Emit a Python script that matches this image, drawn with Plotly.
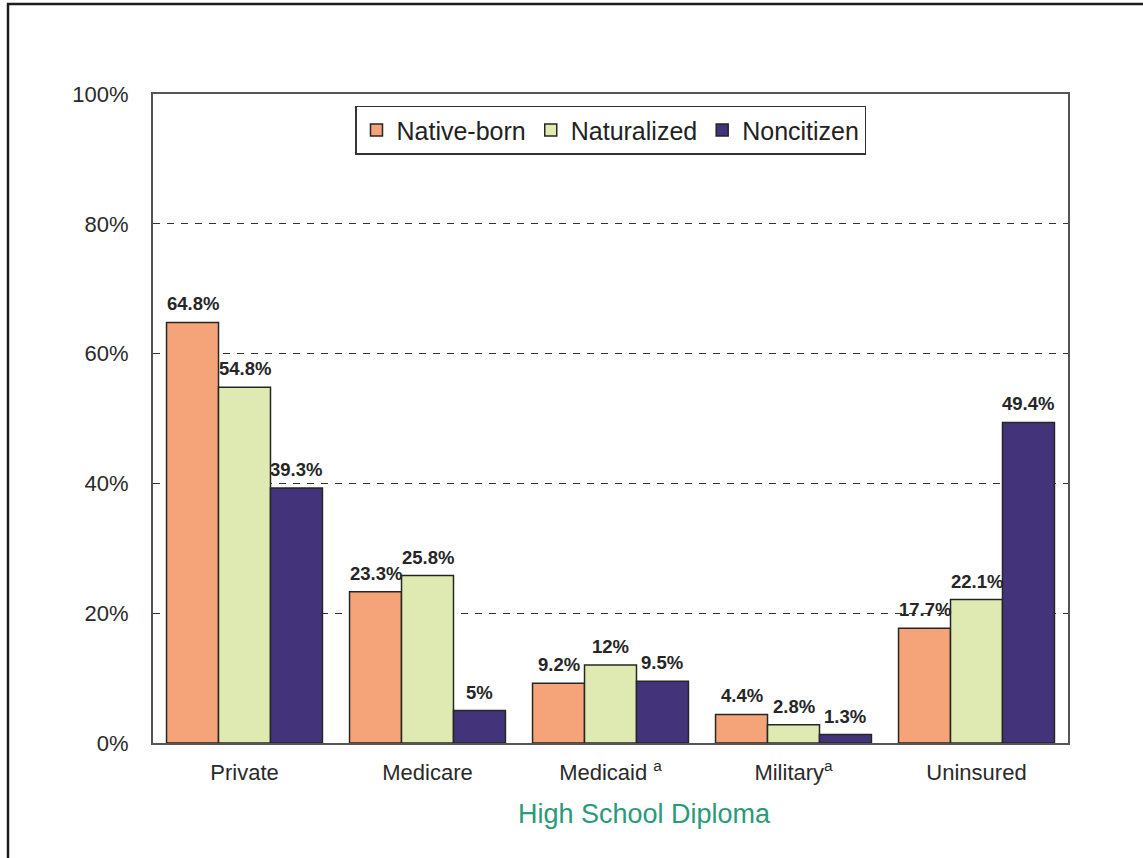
import plotly.graph_objects as go

# Health insurance coverage by nativity, high school diploma holders
categories = ["Private", "Medicare", "Medicaid", "Military", "Uninsured"]
category_labels = ["Private", "Medicare", "Medicaid <sup>a</sup>", "Military<sup>a</sup>", "Uninsured"]
series_names = ["Native-born", "Naturalized", "Noncitizen"]
native_born = [64.8, 23.3, 9.2, 4.4, 17.7]
naturalized = [54.8, 25.8, 12.0, 2.8, 22.1]
noncitizen = [39.3, 5.0, 9.5, 1.3, 49.4]
value_labels = [
    ["64.8%", "23.3%", "9.2%", "4.4%", "17.7%"],
    ["54.8%", "25.8%", "12%", "2.8%", "22.1%"],
    ["39.3%", "5%", "9.5%", "1.3%", "49.4%"],
]
y_ticks = [0, 20, 40, 60, 80, 100]
y_tick_labels = ["0%", "20%", "40%", "60%", "80%", "100%"]
group_title = "High School Diploma"

colors = ["#F5A47A", "#DFEAB2", "#43337A"]
series_values = [native_born, naturalized, noncitizen]

W, H = 1143, 858
ML, MR, MT, MB = 153, 75, 94, 115
plot_w = W - ML - MR
plot_h = H - MT - MB
bargap = 0.148
bar_px = plot_w / len(categories) * (1 - bargap) / 3

fig = go.Figure()
for name, vals, col in zip(series_names, series_values, colors):
    fig.add_trace(go.Bar(
        x=categories, y=vals, name=name,
        marker=dict(color=col, line=dict(color="#262626", width=1.5)),
    ))

# value labels above each bar
annotations = []
for s, (vals, labels) in enumerate(zip(series_values, value_labels)):
    for cat, v, lab in zip(categories, vals, labels):
        annotations.append(dict(
            x=cat, y=v, xref="x", yref="y", text=f"<b>{lab}</b>",
            showarrow=False, xanchor="center", yanchor="bottom",
            xshift=(s - 1) * bar_px, yshift=6,
            font=dict(family="Arial, Liberation Sans", size=18.5, color="#262626"),
        ))

# group title under the category labels
annotations.append(dict(
    x=(644 - ML) / plot_w, y=-(814 - MT - plot_h) / plot_h,
    xref="paper", yref="paper", text=group_title, showarrow=False,
    xanchor="center", yanchor="middle",
    font=dict(family="Arial, Liberation Sans", size=27, color="#2a9a78"),
))

fig.update_layout(
    width=W, height=H,
    margin=dict(l=ML, r=MR, t=MT, b=MB),
    paper_bgcolor="white", plot_bgcolor="white",
    barmode="group", bargap=bargap, bargroupgap=0,
    font=dict(family="Arial, Liberation Sans", color="#2a2a2a"),
    annotations=annotations,
    showlegend=True,
    legend=dict(
        orientation="h", x=0.5, xanchor="center", y=0.982, yanchor="top",
        bgcolor="white", bordercolor="#333333", borderwidth=1.5,
        font=dict(size=25, color="#222222"),
        itemwidth=30, tracegroupgap=0,
    ),
    shapes=[dict(
        type="rect", xref="paper", yref="paper",
        x0=(8 - ML) / plot_w, x1=1.3,
        y0=-0.4, y1=1 + (MT - 4) / plot_h,
        line=dict(color="#1e1e1e", width=2.5), layer="below",
    )],
)

fig.update_xaxes(
    tickmode="array", tickvals=categories, ticktext=category_labels,
    tickfont=dict(size=22, color="#2a2a2a"),
    showline=True, linecolor="#555555", linewidth=2, mirror=True,
    ticks="", ticklabelstandoff=9,
)
fig.update_yaxes(
    range=[0, 100], tickmode="array", tickvals=y_ticks, ticktext=y_tick_labels,
    tickfont=dict(size=22, color="#2a2a2a"),
    showline=True, linecolor="#555555", linewidth=2, mirror=True,
    showgrid=True, gridcolor="#333333", gridwidth=1, griddash="7px,7px",
    ticks="", ticklabelstandoff=18, zeroline=False,
)

fig.write_html("out.html")
